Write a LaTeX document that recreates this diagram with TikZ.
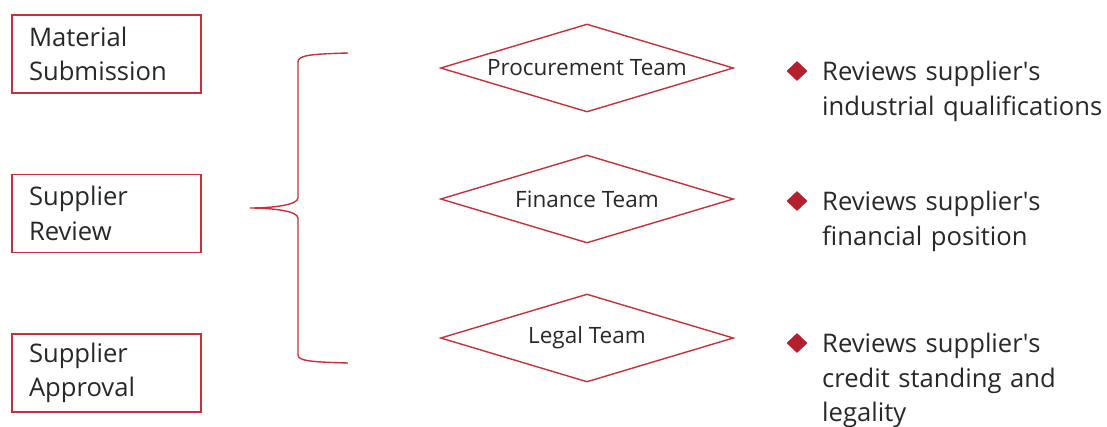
\documentclass[tikz,border=0pt]{standalone}
\usepackage{fontspec}
\setmainfont{Open Sans}
\usetikzlibrary{shapes.geometric,positioning}
\definecolor{flowred}{RGB}{200,48,58}
\definecolor{bulletred}{RGB}{180,32,46}
\definecolor{inkgray}{RGB}{40,40,40}

\begin{document}
\begin{tikzpicture}[x=1pt, y=-1pt,
    stagebox/.style={draw=flowred, line width=1.4pt, minimum width=189pt, minimum height=78pt,
        text width=155pt, inner xsep=17pt, inner ysep=0pt, align=left, text=inkgray,
        font=\fontsize{25.6}{34.5}\selectfont},
    teambox/.style={draw=flowred, line width=1.4pt, shape=diamond, aspect=3.33,
        minimum width=293pt, minimum height=88pt, inner sep=0pt, text=inkgray,
        font=\fontsize{22.5}{27}\selectfont},
    bulletmark/.style={fill=bulletred, shape=diamond, minimum width=21pt, minimum height=20pt, inner sep=0pt},
    notetext/.style={anchor=north west, inner sep=0pt, text width=285pt, align=left, text=inkgray,
        font=\fontsize{25.6}{34.5}\selectfont}]
        \useasboundingbox (0,0) rectangle (1107,426);
        % process stages
        \node[stagebox] (matsub) at (106.5,54) {Material\\Submission};
        \node[stagebox] (suprev) at (106.5,213.5) {Supplier\\Review};
        \node[stagebox] (supapp) at (106.5,373) {Supplier\\Approval};
        % brace from the review stage to the teams
        \coordinate (brtip) at (250,208);
        \coordinate (brtop) at (348,53);
        \coordinate (brbot) at (348,363);
        \draw[flowred, line width=1.4pt] (brtop) .. controls (312,54) and (298,55) .. (298,62) -- (298,198)
            .. controls (298,205) and (272,208) .. (brtip) .. controls (272,208) and (298,211) .. (298,218)
            -- (298,355) .. controls (298,361) and (312,362) .. (brbot);
        % teams and what each one checks
        \foreach \nm/\y/\team/\ty in {proc/68/Procurement Team/61, fin/199/Finance Team/191, legal/338/Legal Team/333}{
            \node[teambox] (\nm) at (587,\y) {\team};
            \node[bulletmark] (\nm-mark) at (797,\ty+10) {};
        }
        \node[notetext] (proc-note) at (822,61) {Reviews supplier\textquotesingle s\\industrial qualifications};
        \node[notetext] (fin-note) at (822,191) {Reviews supplier\textquotesingle s\\financial position};
        \node[notetext] (legal-note) at (822,333) {Reviews supplier\textquotesingle s\\credit standing and\\legality};
\end{tikzpicture}
\end{document}
